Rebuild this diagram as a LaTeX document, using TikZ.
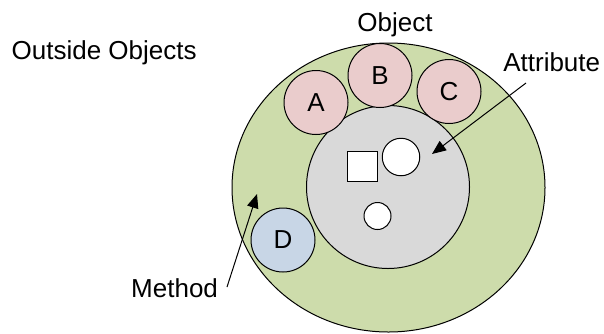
\documentclass[tikz,border=0pt]{standalone}
\usepackage{fontspec}
\setmainfont{Liberation Sans}
\usetikzlibrary{arrows.meta,shapes.geometric}
\definecolor{objgreen}{RGB}{205,220,171}
\definecolor{corgray}{RGB}{217,217,217}
\definecolor{outpink}{RGB}{234,204,204}
\definecolor{outblue}{RGB}{200,214,230}
\tikzset{
  lbl/.style={inner sep=0pt, font=\fontsize{26}{31}\selectfont},
  ball/.style={circle, draw=black, line width=1pt, minimum size=64pt, inner sep=0pt,
    font=\fontsize{26}{31}\selectfont},
  hole/.style={circle, draw=black, line width=1pt, fill=white, inner sep=0pt},
  pointer/.style={line width=1pt, -{Triangle[length=14pt,width=11.5pt]}}
}
\begin{document}
\begin{tikzpicture}[x=1pt,y=-1pt]
\useasboundingbox (0,0) rectangle (604,333);
% object body and its core
\node[ellipse, draw=black, line width=1pt, fill=objgreen, minimum width=313pt, minimum height=289pt, inner sep=0pt] (obj) at (388.5,187.5) {};
\node[circle, draw=black, line width=1pt, fill=corgray, minimum size=163pt, inner sep=0pt] (core) at (388,187) {};
% data held in the core
\node[hole, rectangle, minimum size=30pt] (sq) at (362.7,166) {};
\node[hole, minimum size=37.5pt] (c1) at (401,157) {};
\node[hole, minimum size=27pt] (c2) at (377.5,216) {};
% outside objects
\node[ball, fill=outpink] (A) at (316,102.5) {A};
\node[ball, fill=outpink] (B) at (380,75.5) {B};
\node[ball, fill=outpink] (C) at (449,91.5) {C};
\node[ball, fill=outblue] (D) at (283,240) {D};
% labels
\node[lbl, anchor=base west] (outside) at (11.5,59) {Outside Objects};
\node[lbl, anchor=base] (objlbl) at (395,31) {Object};
\node[lbl, anchor=base] (attr) at (551.7,71.7) {Attribute};
\node[lbl, anchor=base west] (meth) at (131,297.7) {Method};
% pointers
\coordinate (attrtail) at (526,83);
\coordinate (attrtip) at (432,154);
\coordinate (methtail) at (227,287);
\coordinate (methtip) at (257,194);
\draw[pointer] (attrtail) -- (attrtip);
\draw[pointer] (methtail) -- (methtip);
\end{tikzpicture}
\end{document}
